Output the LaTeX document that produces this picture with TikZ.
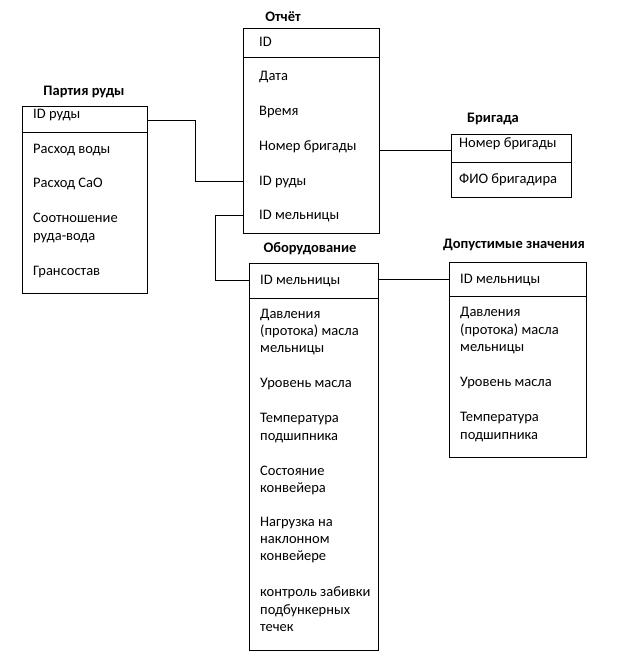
\documentclass[tikz,border=0pt]{standalone}
\usepackage{fontspec}
\setmainfont{Carlito}
\begin{document}
\begin{tikzpicture}[x=1pt,y=-1pt,
  box/.style={draw,line width=1pt,inner sep=0pt,anchor=north west},
  row/.style={anchor=mid west,inner sep=0pt,font=\fontsize{14.5}{17}\selectfont},
  ttl/.style={inner sep=0pt,font=\fontsize{14.5}{17}\selectfont\bfseries},
  link/.style={line width=1pt}]
\useasboundingbox (0,0) rectangle (623,653);
\fill[white] (0,0) rectangle (623,653);

% Партия руды
\node[ttl] (tp) at (84,92) {Партия руды};
\node[box,minimum width=125pt,minimum height=187pt] (p) at (22,106) {};
\draw[line width=1pt] (22,132) -- (147,132);
\foreach \t/\y [count=\i] in {ID руды/116,Расход воды/151,Расход СаО/185,Соотношение/220,руда-вода/238,Грансостав/273}
  \node[row] (p\i) at (33,\y) {\t};

% Отчёт
\node[ttl] (to) at (283,17) {Отчёт};
\node[box,minimum width=136pt,minimum height=205pt] (o) at (243,28) {};
\draw[line width=1pt] (243,57) -- (379,57);
\foreach \t/\y [count=\i] in {ID/44,Дата/78,Время/113,Номер бригады/148,ID руды/183,ID мельницы/217}
  \node[row] (o\i) at (259,\y) {\t};

% Бригада
\node[ttl] (tb) at (493,119) {Бригада};
\node[box,minimum width=120pt,minimum height=63pt] (b) at (451,134) {};
\draw[line width=1pt] (451,162) -- (571,162);
\foreach \t/\y [count=\i] in {Номер бригады/145,ФИО бригадира/181}
  \node[row] (b\i) at (459,\y) {\t};

% Оборудование
\node[ttl] (te) at (310,249) {Оборудование};
\node[box,minimum width=129pt,minimum height=387pt] (e) at (249,263) {};
\draw[line width=1pt] (249,298) -- (378,298);
\foreach \t/\y [count=\i] in {ID мельницы/282,Давления/316,(протока) масла/333,мельницы/350,Уровень масла/385,Температура/420,подшипника/438,Состояние/473,конвейера/490,Нагрузка на/524,наклонном/541,конвейере/558,контроль забивки/594,подбункерных/612,течек/629}
  \node[row] (e\i) at (260,\y) {\t};

% Допустимые значения
\node[ttl] (td) at (514,245) {Допустимые значения};
\node[box,minimum width=137pt,minimum height=195pt] (d) at (449,262) {};
\draw[line width=1pt] (449,296) -- (586,296);
\foreach \t/\y [count=\i] in {ID мельницы/281,Давления/314,(протока) масла/332,мельницы/349,Уровень масла/384,Температура/419,подшипника/437}
  \node[row] (d\i) at (460,\y) {\t};

% connectors
\coordinate (c1) at (195,120);
\coordinate (c2) at (215,215);
\coordinate (c3) at (300,150);
\coordinate (c4) at (400,279);
\draw[link] (c1 -| p.east) -- (c1) |- (o5 -| o.west);
\draw[link] (c2 -| o.west) -- (c2) |- (e1 -| e.west);
\draw[link] (c3 -| o.east) -- (c3 -| b.west);
\draw[link] (c4 -| e.east) -- (c4 -| d.west);
\end{tikzpicture}
\end{document}
